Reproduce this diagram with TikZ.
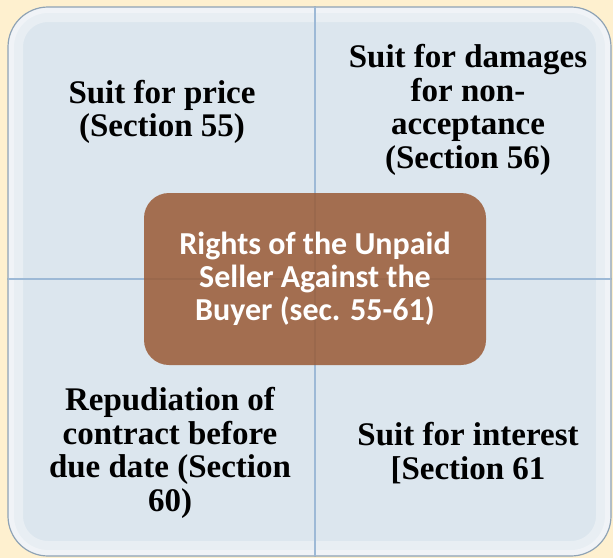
\documentclass[tikz,border=0pt]{standalone}
\usepackage{fontspec}
\setmainfont{Liberation Serif}
\newfontfamily\carlito{Carlito}
\definecolor{cream}{HTML}{FEF0CF}
\definecolor{paneblue}{HTML}{DCE6EE}
\definecolor{paneedge}{HTML}{8FA3B5}
\definecolor{seam}{HTML}{9DB9D6}
\definecolor{rust}{HTML}{9A5A35}
\tikzset{
  pane/.style={draw=paneedge, line width=1.2pt},
  glow/.style={draw=white, opacity=0.35},
  panetext/.style={align=center, font=\fontsize{33}{33.5}\selectfont\bfseries, text=black},
  hubtext/.style={align=center, font=\carlito\fontsize{32}{33}\selectfont\bfseries, text=white}
}
\begin{document}
\begin{tikzpicture}[x=1pt, y=-1pt]
\useasboundingbox (0,0) rectangle (613,558);
\fill[cream] (0,0) rectangle (613,558);

\coordinate (TL) at (8,7);
\coordinate (TR) at (611,7);
\coordinate (BL) at (8,556);
\coordinate (BR) at (611,556);
\coordinate (Mt) at (315,7);
\coordinate (Mb) at (315,556);
\coordinate (Ml) at (8,279);
\coordinate (Mr) at (611,279);
\coordinate (M) at (315,279);

% four panes, one rounded outer corner each, lighter towards the rim
\foreach \c/\a/\b in {TL/Ml/Mt, TR/Mt/Mr, BR/Mr/Mb, BL/Mb/Ml} {
  \fill[paneblue] (\a) [rounded corners=40pt] -- (\c) [sharp corners] -- (\b) -- (M) -- cycle;
  \begin{scope}
    \clip (\a) [rounded corners=40pt] -- (\c) [sharp corners] -- (\b) -- (M) -- cycle;
    \draw[glow, line width=30pt] (\a) [rounded corners=40pt] -- (\c) [sharp corners] -- (\b);
    \draw[glow, line width=12pt] (\a) [rounded corners=40pt] -- (\c) [sharp corners] -- (\b);
  \end{scope}
  \draw[pane] (\a) [rounded corners=40pt] -- (\c) [sharp corners] -- (\b) -- (M) -- cycle;
}
\draw[seam, line width=1.5pt] (Mt) -- (Mb);
\draw[seam, line width=1.5pt] (Ml) -- (Mr);

\node[panetext] (price) at (162,112) {Suit for price\\(Section 55)};
\node[panetext] (damages) at (468,110) {Suit for damages\\for non-\\acceptance\\(Section 56)};
\node[panetext] (repudiation) at (170,453) {Repudiation of\\contract before\\due date (Section\\60)};
\node[panetext] (interest) at (468,453) {Suit for interest\\{[}Section 61};

\node[fill=rust, fill opacity=0.85, text opacity=1, rounded corners=25pt,
      minimum width=342pt, minimum height=172pt, hubtext] (rights) at (M)
      {Rights of the Unpaid\\Seller Against the\\Buyer (sec. 55-61)};
\end{tikzpicture}
\end{document}
